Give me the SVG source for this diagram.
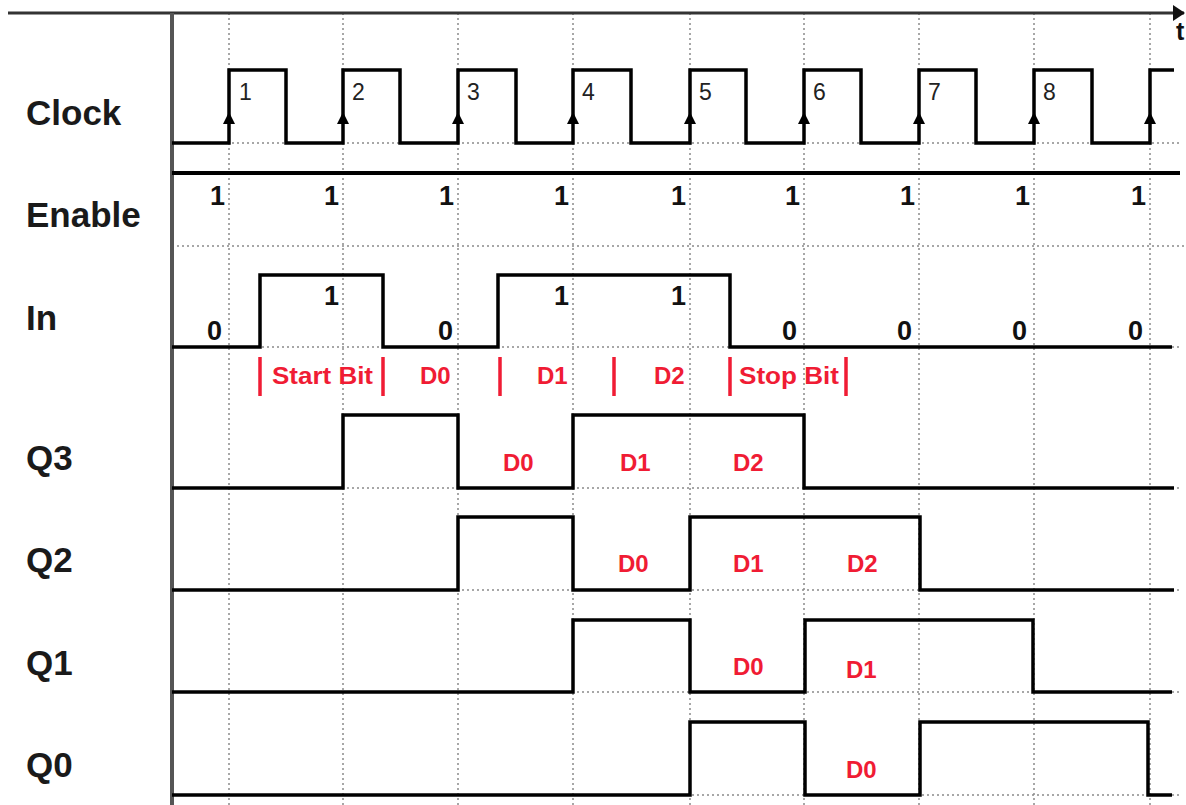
<svg xmlns="http://www.w3.org/2000/svg" width="1186" height="805" viewBox="0 0 1186 805">
<style>
.lbl{font-family:"Liberation Sans",Arial,sans-serif;font-weight:bold;font-size:35px;fill:#1a1a1a}
.val{font-family:"Liberation Sans",Arial,sans-serif;font-weight:bold;font-size:27px;fill:#111;text-anchor:end}
.num{font-family:"Liberation Sans",Arial,sans-serif;font-size:23px;fill:#222}
.red{font-family:"Liberation Sans",Arial,sans-serif;font-weight:bold;font-size:24px;fill:#f01c34}
.wave{fill:none;stroke:#000;stroke-width:3.5;stroke-linejoin:miter}
.grid{stroke:#8a8a8a;stroke-width:1.5;stroke-dasharray:2 3;fill:none}
.bar{stroke:#f01c34;stroke-width:3.5}
</style>
<defs>
<marker id="ah" viewBox="0 0 12 16" refX="11" refY="8" markerWidth="4" markerHeight="5.5" orient="auto" markerUnits="strokeWidth">
<path d="M0,0 L12,8 L0,16 z" fill="#111"/>
</marker>
</defs>
<rect width="1186" height="805" fill="#fff"/>
<g id="grid">
<path class="grid" d="M229,13V805M343,13V805M458,13V805M573,13V805M690,13V805M804,13V805M919,13V805M1034,13V805M1150,13V805"/>
<path class="grid" d="M172,143H1182M172,246H1186M172,347H1182M172,488H1182M172,590H1182M172,692H1182M172,795H1182"/>
</g>
<g id="axes">
<line x1="8" y1="13" x2="1184" y2="13" stroke="#333" stroke-width="3" marker-end="url(#ah)"/>
<text x="1176" y="40" style="font-family:'Liberation Sans',Arial,sans-serif;font-weight:bold;font-size:25px;fill:#111">t</text>
<line x1="172" y1="13" x2="172" y2="805" stroke="#555" stroke-width="4"/>
<line x1="172" y1="173" x2="1180" y2="173" stroke="#000" stroke-width="4"/>
</g>
<g id="labels">
<text class="lbl" x="26" y="125">Clock</text>
<text class="lbl" x="26" y="227">Enable</text>
<text class="lbl" x="26" y="330">In</text>
<text class="lbl" x="26" y="470">Q3</text>
<text class="lbl" x="26" y="572">Q2</text>
<text class="lbl" x="26" y="675">Q1</text>
<text class="lbl" x="26" y="777">Q0</text>
</g>
<g id="clock">
<polyline class="wave" points="172,143 229,143 229,70 286,70 286,143 343,143 343,70 400,70 400,143 458,143 458,70 516,70 516,143 573,143 573,70 631,70 631,143 690,143 690,70 746,70 746,143 804,143 804,70 861,70 861,143 919,143 919,70 976,70 976,143 1034,143 1034,70 1092,70 1092,143 1150,143 1150,70 1174,70"/>
<g fill="#000">
<path d="M229,112l-6,12h12z"/><path d="M343,112l-6,12h12z"/><path d="M458,112l-6,12h12z"/>
<path d="M573,112l-6,12h12z"/><path d="M690,112l-6,12h12z"/><path d="M804,112l-6,12h12z"/>
<path d="M919,112l-6,12h12z"/><path d="M1034,112l-6,12h12z"/><path d="M1150,112l-6,12h12z"/>
</g>
<text class="num" x="239" y="100">1</text>
<text class="num" x="352" y="100">2</text>
<text class="num" x="467" y="100">3</text>
<text class="num" x="582" y="100">4</text>
<text class="num" x="699" y="100">5</text>
<text class="num" x="813" y="100">6</text>
<text class="num" x="928" y="100">7</text>
<text class="num" x="1043" y="100">8</text>
</g>
<g id="enable">
<text class="val" x="225" y="205">1</text>
<text class="val" x="339" y="205">1</text>
<text class="val" x="454" y="205">1</text>
<text class="val" x="569" y="205">1</text>
<text class="val" x="686" y="205">1</text>
<text class="val" x="800" y="205">1</text>
<text class="val" x="915" y="205">1</text>
<text class="val" x="1030" y="205">1</text>
<text class="val" x="1146" y="205">1</text>
</g>
<g id="in">
<polyline class="wave" points="172,347 260,347 260,275 383,275 383,347 498,347 498,275 730,275 730,347 1172,347"/>
<text class="val" x="222" y="340">0</text>
<text class="val" x="339" y="305">1</text>
<text class="val" x="453" y="340">0</text>
<text class="val" x="569" y="305">1</text>
<text class="val" x="686" y="305">1</text>
<text class="val" x="797" y="340">0</text>
<text class="val" x="912" y="340">0</text>
<text class="val" x="1027" y="340">0</text>
<text class="val" x="1143" y="340">0</text>
</g>
<g id="frame">
<path class="bar" d="M260,357V396M383,357V396M500,357V396M614,357V396M730,357V396M846,357V396"/>
<text class="red" x="272" y="384" textLength="101" lengthAdjust="spacingAndGlyphs">Start Bit</text>
<text class="red" x="420" y="384">D0</text>
<text class="red" x="537" y="384">D1</text>
<text class="red" x="654" y="384">D2</text>
<text class="red" x="739" y="384" textLength="100" lengthAdjust="spacingAndGlyphs">Stop Bit</text>
</g>
<g id="q3">
<polyline class="wave" points="172,488 343,488 343,415 458,415 458,488 573,488 573,415 804,415 804,488 1174,488"/>
<text class="red" x="503" y="471">D0</text>
<text class="red" x="620" y="471">D1</text>
<text class="red" x="733" y="471">D2</text>
</g>
<g id="q2">
<polyline class="wave" points="172,590 458,590 458,517 573,517 573,590 690,590 690,517 920,517 920,590 1174,590"/>
<text class="red" x="618" y="572">D0</text>
<text class="red" x="733" y="572">D1</text>
<text class="red" x="847" y="572">D2</text>
</g>
<g id="q1">
<polyline class="wave" points="172,692 573,692 573,620 690,620 690,692 805,692 805,620 1033,620 1033,692 1172,692"/>
<text class="red" x="733" y="675">D0</text>
<text class="red" x="846" y="678">D1</text>
</g>
<g id="q0">
<polyline class="wave" points="172,795 690,795 690,722 805,722 805,795 920,795 920,722 1148,722 1148,795 1172,795"/>
<text class="red" x="846" y="778">D0</text>
</g>
</svg>
